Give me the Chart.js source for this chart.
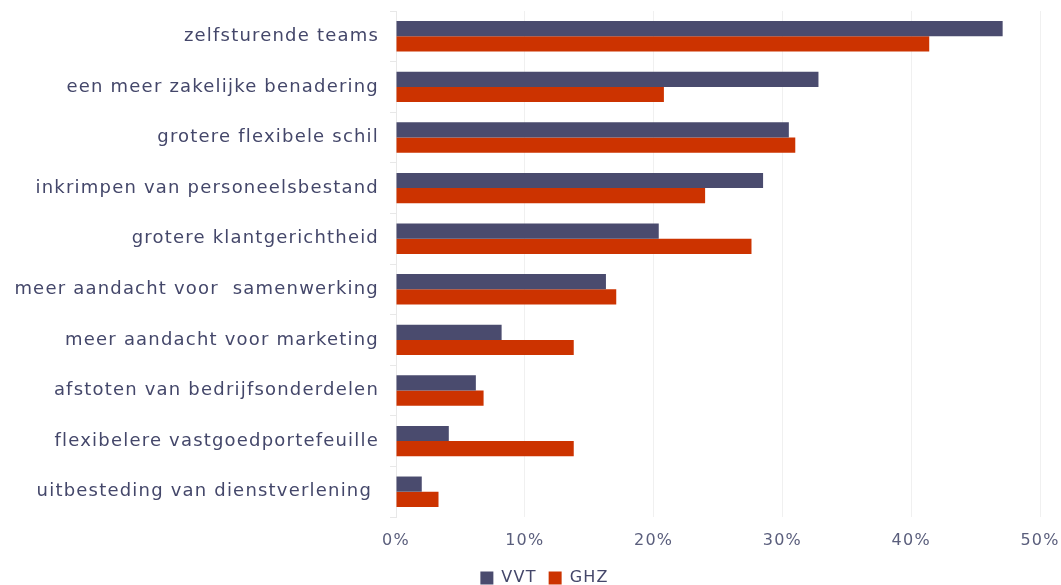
<!DOCTYPE html>
<html>
<head>
<meta charset="utf-8">
<script src="https://cdn.jsdelivr.net/npm/chart.js@4"></script>
<style>
  html, body { margin: 0; padding: 0; background: #fff; }
  #wrap { width: 1061px; height: 585px; }
</style>
</head>
<body>
<div id="wrap"><canvas id="ChartMaatregelen"></canvas></div>
<script>
const categories = [
    'zelfsturende teams',
    'een meer zakelijke benadering',
    'grotere flexibele schil',
    'inkrimpen van personeelsbestand',
    'grotere klantgerichtheid',
    'meer aandacht voor  samenwerking',
    'meer aandacht voor marketing',
    'afstoten van bedrijfsonderdelen',
    'flexibelere vastgoedportefeuille',
    'uitbesteding van dienstverlening '
];
const vvtValues = [47.1, 32.8, 30.5, 28.5, 20.4, 16.3, 8.2, 6.2, 4.1, 2.0];
const ghzValues = [41.4, 20.8, 31.0, 24.0, 27.6, 17.1, 13.8, 6.8, 13.8, 3.3];
const xTicks = [0, 10, 20, 30, 40, 50];

const ctx = document.getElementById('ChartMaatregelen');

// the source text is drawn a bit wider than normal,
// and the legend sits a little right of the middle
const tweaks = {
    id: 'tweaks',
    beforeUpdate: chart => { chart.ctx.letterSpacing = '1.2px'; },
    afterLayout: chart => {
        chart.legend.left += 14;
        chart.legend.right += 14;
    },
    beforeDraw: chart => { chart.ctx.letterSpacing = '1.2px'; }
};

const fontFam = 'DejaVu Sans, Verdana';

let ChartMaatregelen = new Chart(ctx, {
    type: 'bar',
    data: {
        labels: categories,
        datasets: [{
            label: 'VVT',
            data: vvtValues,
            backgroundColor: '#4a4b6e',
            categoryPercentage: 0.6,
            barPercentage: 1.0
        }, {
            label: 'GHZ',
            data: ghzValues,
            backgroundColor: '#cc3300',
            categoryPercentage: 0.6,
            barPercentage: 1.0
        }]
    },
    plugins: [tweaks],
    options: {
        indexAxis: 'y',
        responsive: true,
        maintainAspectRatio: false,
        animation: false,
        layout: {
            padding: { top: 11, right: 0, left: 0, bottom: -11 }
        },
        plugins: {
            legend: {
                position: 'bottom',
                labels: {
                    boxWidth: 13,
                    boxHeight: 13,
                    padding: 12,
                    color: '#44476a',
                    font: { family: fontFam, size: 16 }
                }
            },
            tooltip: { enabled: false }
        },
        scales: {
            x: {
                min: xTicks[0],
                max: xTicks[xTicks.length - 1],
                afterBuildTicks: function(scale){
                    scale.ticks = xTicks.map(v => ({ value: v }));
                },
                afterFit: function(scale){
                    scale.height = 41;
                    scale.paddingRight = 21;
                },
                ticks: {
                    callback: v => v + '%',
                    color: '#5a5e7c',
                    padding: 14,
                    font: { family: fontFam, size: 16 }
                },
                grid: { color: '#f0f0f0', drawTicks: false },
                border: { display: false }
            },
            y: {
                afterFit: function(scale){
                    scale.width = 396;
                    scale.paddingTop = 0;
                    scale.paddingBottom = 0;
                },
                ticks: {
                    color: '#44476a',
                    padding: 11,
                    font: { family: fontFam, size: 18 }
                },
                grid: { color: '#e8e8e8', drawOnChartArea: false, tickLength: 6 },
                border: { color: '#e8e8e8' }
            }
        }
    }
});
</script>
</body>
</html>
